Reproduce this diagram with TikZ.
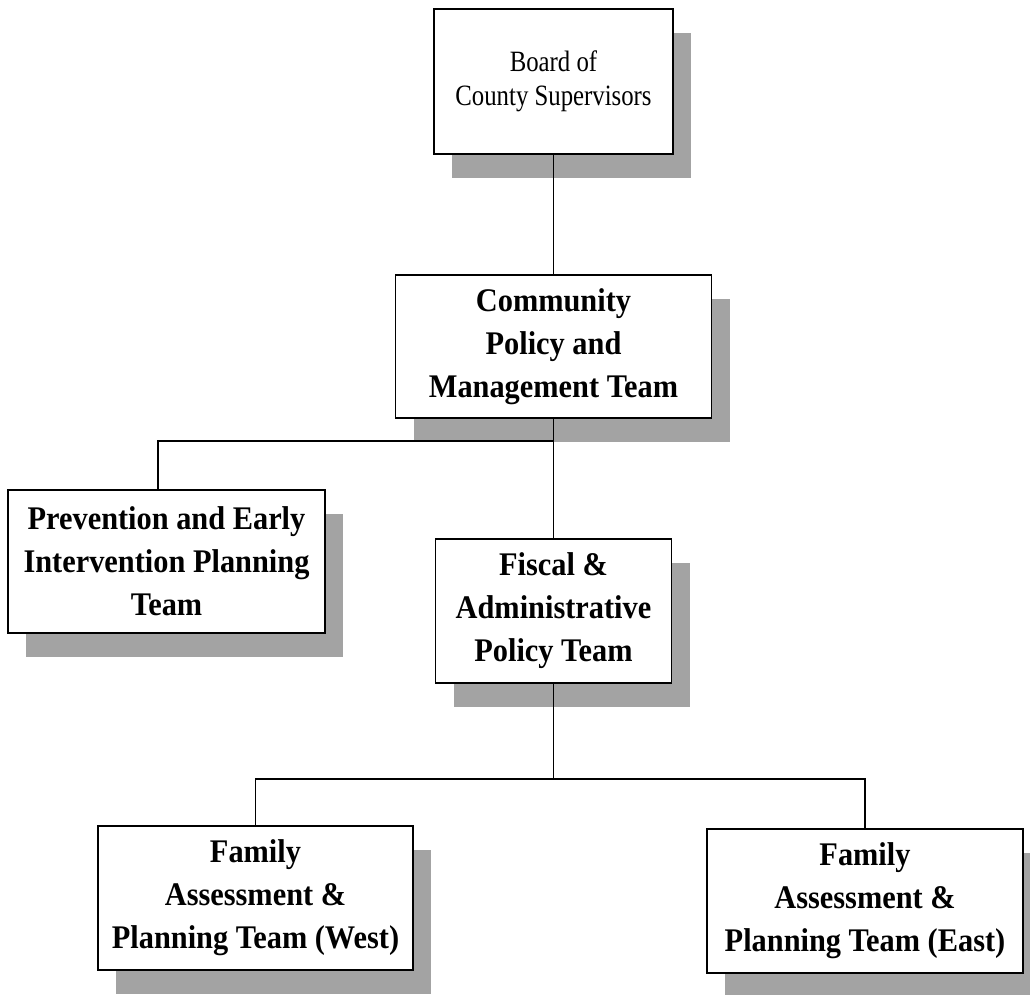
\documentclass[tikz,border=0pt]{standalone}
\usepackage{fontspec}
\setmainfont{Liberation Serif}
\newfontfamily\orgplain{Liberation Serif}[FakeStretch=0.84]
\newfontfamily\orgbold{Liberation Serif}[FakeStretch=0.92]
\usetikzlibrary{shadows}

\tikzset{
  orgbox/.style={draw=black, line width=1.6pt, fill=white, inner sep=0pt,
    align=center, minimum height=144pt,
    drop shadow={shadow xshift=18pt, shadow yshift=-24pt, fill=black!36, opacity=1}},
  boldtext/.style={font=\orgbold\bfseries\fontsize{33}{43}\selectfont},
  plaintext/.style={font=\orgplain\fontsize{29.5}{34}\selectfont},
  link/.style={draw=black, line width=1.3pt}
}

\begin{document}
\begin{tikzpicture}[x=1pt, y=-1pt]
  \clip (0,0) rectangle (1030,994);
  \fill[white] (0,0) rectangle (1030,994);

  % boxes
  \node[orgbox, plaintext, minimum width=239pt, minimum height=145pt] (board) at (553.5,81.5)
    {Board of\\County Supervisors};
  \node[orgbox, boldtext, minimum width=316pt, minimum height=143pt] (cpmt) at (553.5,346.5)
    {Community\\Policy and\\Management Team};
  \node[orgbox, boldtext, minimum width=317pt, minimum height=143pt] (prev) at (166.5,561.5)
    {Prevention and Early\\Intervention Planning\\Team};
  \node[orgbox, boldtext, minimum width=236pt] (fiscal) at (553.5,611)
    {Fiscal \&\\Administrative\\Policy Team};
  \node[orgbox, boldtext, minimum width=315pt] (west) at (255.5,898)
    {Family\\Assessment \&\\Planning Team (West)};
  \node[orgbox, boldtext, minimum width=316pt] (east) at (865,901)
    {Family\\Assessment \&\\Planning Team (East)};

  % branch points
  \coordinate (jc) at (553.5,441);
  \coordinate (jf) at (553.5,779);

  % connectors
  \draw[link] (board) -- (cpmt);
  \draw[link] (cpmt) -- (fiscal);
  \draw[link] (jc) -| ([xshift=-8.5pt]prev.north);
  \draw[link] (fiscal) -- (jf);
  \draw[link] (west.north) |- (jf) -| (east.north);
\end{tikzpicture}
\end{document}
